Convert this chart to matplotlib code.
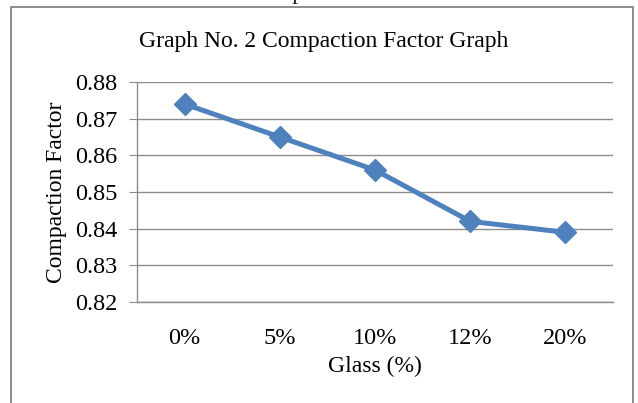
import matplotlib
matplotlib.use("Agg")
import matplotlib.pyplot as plt
from matplotlib.patches import Rectangle

categories = ["0%", "5%", "10%", "12%", "20%"]
compaction_factor = [0.874, 0.865, 0.856, 0.842, 0.839]
y_ticks = [0.82, 0.83, 0.84, 0.85, 0.86, 0.87, 0.88]

W, H = 638, 403
fig = plt.figure(figsize=(W / 100, H / 100), dpi=100)
fig.patch.set_facecolor("white")
plt.rcParams["font.family"] = ["Liberation Serif", "DejaVu Serif"]

# chart frame
fig.patches.append(Rectangle((11 / W, -0.05), (633 - 11) / W, (H - 7) / H + 0.05,
                             transform=fig.transFigure, fill=False,
                             edgecolor="#8c8c8c", linewidth=1.4))

# caption of the table above, running off the top edge
fig.text(330 / W, 1 + 0.5 / H, "Table 3: Compaction Factor Values", ha="center",
         va="baseline", fontsize=17, color="#222222")

ax = fig.add_axes([137 / W, 1 - 302 / H, (613 - 137) / W, (302 - 82) / H])
x = list(range(len(categories)))
ax.plot(x, compaction_factor, color="#4F81BD", linewidth=3.6, marker="D",
        markersize=11, markerfacecolor="#4F81BD", markeredgecolor="#4F81BD",
        zorder=3, clip_on=False)

ax.set_xlim(-0.5, len(categories) - 0.5)
ax.set_ylim(0.82, 0.88)
ax.set_yticks(y_ticks)
ax.set_yticklabels([f"{v:.2f}" for v in y_ticks], fontsize=17.5)
ax.set_xticks(x)
ax.set_xticklabels(categories, fontsize=17.5)
ax.grid(axis="y", color="#8c8c8c", linewidth=1)
ax.set_axisbelow(True)
for s in ["top", "right"]:
    ax.spines[s].set_visible(False)
for s in ["left", "bottom"]:
    ax.spines[s].set_color("#8c8c8c")
    ax.spines[s].set_linewidth(1)
ax.tick_params(axis="y", length=6, color="#8c8c8c", pad=8)
ax.tick_params(axis="x", length=0, pad=19)

ax.set_xlabel("Glass (%)", fontsize=17, labelpad=5)
ax.set_ylabel("Compaction Factor", fontsize=17, labelpad=6)
fig.text(324 / W, 1 - 41 / H, "Graph No. 2 Compaction Factor Graph", ha="center",
         va="center", fontsize=17)

fig.savefig("out.png", dpi=100, facecolor="white")
